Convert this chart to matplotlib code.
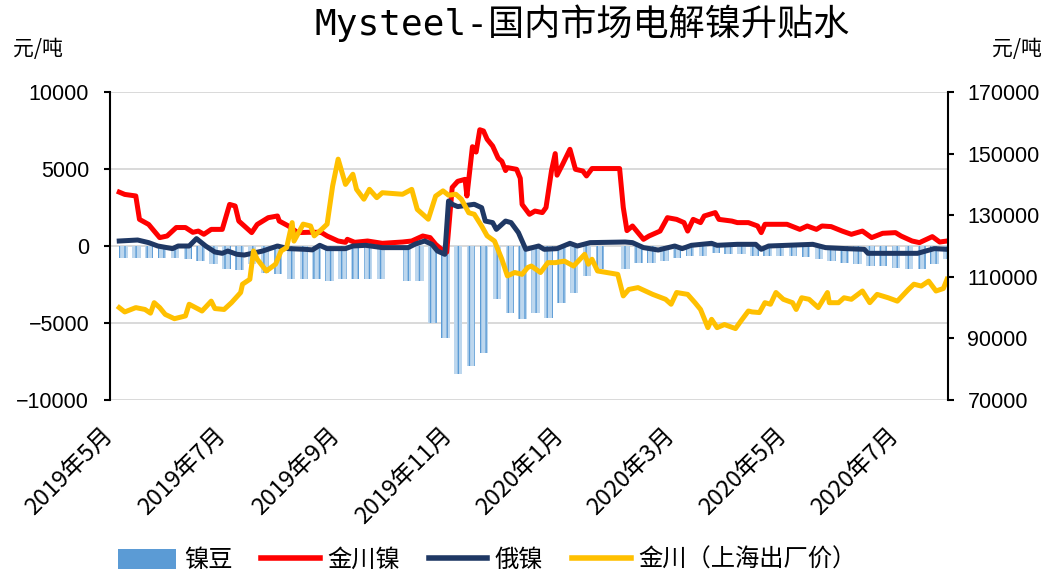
import matplotlib
matplotlib.use('Agg')
import matplotlib.pyplot as plt
from matplotlib.patches import Patch
from matplotlib.lines import Line2D
import numpy as np
import pandas as pd

plt.rcParams['font.family'] = ['Noto Sans CJK SC', 'DejaVu Sans']
plt.rcParams['hatch.linewidth'] = 1.0

# 镍豆（周度柱）
bar_start = '2019-05-06'
bar_vals = [-750, -750, -750, -750, -750, -860, -970, -1190, -1510, -1560,
            -1190, -1730, -1800, -2160, -2160, -2160, -2270, -2160, -2160, -2160,
            -2160, np.nan, -2270, -2270, -4980, -6000, -8300, -7800, -6920, -3460,
            -4330, -4760, -4330, -4650, -3680, -3030, -1950, -1520, np.nan, -1520,
            -1080, -1080, -970, -750, -650, -650, -430, -540, -540, -650,
            -650, -650, -650, -700, -860, -970, -1080, -1190, -1300, -1300,
            -1400, -1510, -1510, -1200, -860]

# 金川镍
red_dates = ['2019-05-06', '2019-05-09', '2019-05-15', '2019-05-17', '2019-05-22', '2019-05-25', '2019-05-28',
             '2019-06-01', '2019-06-06', '2019-06-11', '2019-06-15', '2019-06-18', '2019-06-21', '2019-06-25',
             '2019-07-01', '2019-07-05', '2019-07-08', '2019-07-10', '2019-07-13', '2019-07-17', '2019-07-20',
             '2019-07-26', '2019-07-31', '2019-08-01', '2019-08-06', '2019-08-11', '2019-08-17', '2019-08-22',
             '2019-08-24', '2019-08-27', '2019-09-02', '2019-09-06', '2019-09-07', '2019-09-11', '2019-09-18',
             '2019-09-26', '2019-10-07', '2019-10-12', '2019-10-18', '2019-10-22', '2019-10-25', '2019-10-28',
             '2019-10-31', '2019-11-03', '2019-11-06', '2019-11-10', '2019-11-11', '2019-11-14', '2019-11-16',
             '2019-11-18', '2019-11-20', '2019-11-22', '2019-11-25', '2019-11-28', '2019-11-30', '2019-12-02',
             '2019-12-03', '2019-12-08', '2019-12-10', '2019-12-11', '2019-12-15', '2019-12-18', '2019-12-22',
             '2019-12-24', '2019-12-27', '2019-12-29', '2019-12-30', '2020-01-02', '2020-01-06', '2020-01-09',
             '2020-01-13', '2020-01-15', '2020-01-18', '2020-02-02', '2020-02-04', '2020-02-06', '2020-02-09',
             '2020-02-15', '2020-02-18', '2020-02-24', '2020-02-28', '2020-03-04', '2020-03-08', '2020-03-10',
             '2020-03-13', '2020-03-17', '2020-03-19', '2020-03-25', '2020-03-27', '2020-04-03', '2020-04-06',
             '2020-04-12', '2020-04-17', '2020-04-19', '2020-04-21', '2020-05-03', '2020-05-10', '2020-05-14',
             '2020-05-19', '2020-05-22', '2020-05-27', '2020-06-02', '2020-06-07', '2020-06-13', '2020-06-18',
             '2020-06-24', '2020-07-01', '2020-07-04', '2020-07-10', '2020-07-14', '2020-07-21', '2020-07-25',
             '2020-07-29']
red_vals = [3500, 3350, 3250, 1730, 1400, 970, 545, 650, 1200, 1200,
            890, 970, 760, 1080, 1080, 2700, 2600, 1620, 1300, 870,
            1400, 1840, 1950, 1620, 1300, 870, 890, 890, 870, 650,
            325, 240, 435, 240, 325, 175, 260, 325, 650, 545,
            110, -200, -400, 3800, 4200, 4330, 3250, 6450, 6100, 7550,
            7470, 6930, 6490, 5700, 5500, 4900, 5090, 4980, 4400, 2700,
            2060, 2270, 2170, 2500, 4900, 6000, 4600, 5300, 6280, 4980,
            4870, 4550, 5030, 5030, 2500, 1000, 1300, 435, 650, 970,
            1840, 1730, 1520, 970, 1730, 1520, 1950, 2170, 1730, 1620,
            1520, 1520, 1300, 870, 1410, 1410, 1080, 1300, 1080, 1300,
            1260, 970, 760, 970, 545, 825, 870, 650, 325, 220,
            610, 260, 325]

# 俄镍
navy_dates = ['2019-05-06', '2019-05-16', '2019-05-22', '2019-05-27', '2019-06-04', '2019-06-07', '2019-06-13',
              '2019-06-17', '2019-06-22', '2019-06-27', '2019-07-01', '2019-07-04', '2019-07-09', '2019-07-13',
              '2019-07-23', '2019-07-31', '2019-08-06', '2019-08-15', '2019-08-19', '2019-08-23', '2019-08-27',
              '2019-09-06', '2019-09-10', '2019-09-17', '2019-09-26', '2019-10-10', '2019-10-14', '2019-10-19',
              '2019-10-23', '2019-10-26', '2019-10-30', '2019-11-01', '2019-11-03', '2019-11-06', '2019-11-15',
              '2019-11-19', '2019-11-21', '2019-11-25', '2019-11-27', '2019-12-02', '2019-12-05', '2019-12-09',
              '2019-12-13', '2019-12-20', '2019-12-23', '2019-12-30', '2020-01-06', '2020-01-10', '2020-01-17',
              '2020-02-05', '2020-02-09', '2020-02-15', '2020-02-23', '2020-03-03', '2020-03-07', '2020-03-12',
              '2020-03-23', '2020-03-26', '2020-04-06', '2020-04-16', '2020-04-19', '2020-04-23', '2020-05-17',
              '2020-05-24', '2020-06-04', '2020-06-14', '2020-06-16', '2020-07-13', '2020-07-22', '2020-07-29']
navy_vals = [325, 390, 220, 0, -170, 0, 0, 480, 0, -390,
             -475, -325, -540, -585, -325, 0, -170, -215, -250, 45,
             -170, -170, 0, 45, -105, -105, 130, 325, 110, -325,
             -540, 2920, 2710, 2560, 2710, 2490, 1620, 1520, 1080, 1620,
             1520, 870, -215, 0, -215, -170, 175, 0, 220, 260,
             220, -105, -260, 0, -170, 45, 175, 45, 110, 110,
             -215, 0, 110, -105, -170, -215, -475, -475, -170, -215]

# 金川（上海出厂价），右轴
gold_dates = ['2019-05-06', '2019-05-09', '2019-05-15', '2019-05-20', '2019-05-23', '2019-05-25', '2019-05-28',
              '2019-05-31', '2019-06-05', '2019-06-11', '2019-06-13', '2019-06-20', '2019-06-25', '2019-06-27',
              '2019-07-02', '2019-07-06', '2019-07-11', '2019-07-12', '2019-07-16', '2019-07-18', '2019-07-20',
              '2019-07-25', '2019-07-30', '2019-08-02', '2019-08-05', '2019-08-08', '2019-08-09', '2019-08-14',
              '2019-08-18', '2019-08-20', '2019-08-24', '2019-08-27', '2019-08-30', '2019-09-02', '2019-09-06',
              '2019-09-10', '2019-09-12', '2019-09-16', '2019-09-19', '2019-09-23', '2019-09-26', '2019-10-07',
              '2019-10-12', '2019-10-15', '2019-10-21', '2019-10-25', '2019-10-29', '2019-11-01', '2019-11-05',
              '2019-11-08', '2019-11-12', '2019-11-15', '2019-11-19', '2019-11-22', '2019-11-26', '2019-11-30',
              '2019-12-03', '2019-12-07', '2019-12-11', '2019-12-14', '2019-12-16', '2019-12-21', '2019-12-25',
              '2019-12-29', '2020-01-03', '2020-01-08', '2020-01-14', '2020-01-16', '2020-01-18', '2020-01-21',
              '2020-02-01', '2020-02-04', '2020-02-07', '2020-02-12', '2020-02-20', '2020-02-27', '2020-03-01',
              '2020-03-04', '2020-03-10', '2020-03-14', '2020-03-17', '2020-03-21', '2020-03-23', '2020-03-26',
              '2020-03-30', '2020-04-05', '2020-04-08', '2020-04-12', '2020-04-14', '2020-04-18', '2020-04-21',
              '2020-04-24', '2020-04-27', '2020-05-01', '2020-05-06', '2020-05-08', '2020-05-11', '2020-05-15',
              '2020-05-20', '2020-05-25', '2020-05-26', '2020-05-31', '2020-06-03', '2020-06-07', '2020-06-13',
              '2020-06-17', '2020-06-21', '2020-06-27', '2020-07-02', '2020-07-08', '2020-07-11', '2020-07-15',
              '2020-07-19', '2020-07-23', '2020-07-27', '2020-07-29']
gold_vals = [100000, 98600, 100000, 99400, 98200, 101600, 100000, 97800, 96400, 97300,
             101100, 98900, 102100, 99700, 99400, 101600, 104900, 107600, 109200, 118400,
             115700, 111900, 114100, 118400, 119500, 127600, 121600, 127100, 126500, 123300,
             125400, 127100, 139500, 148200, 140000, 143300, 138400, 135200, 138400, 135700,
             137300, 136800, 138400, 131900, 128700, 136200, 137900, 136500, 136800, 135200,
             130800, 130300, 126500, 123300, 121600, 115700, 110300, 111400, 110800, 113000,
             113500, 111400, 114600, 114600, 115100, 113500, 117300, 114100, 115700, 111900,
             110800, 103800, 105900, 106500, 104300, 102700, 101100, 104900, 104300, 101600,
             99400, 93500, 96200, 93500, 94500, 93200, 95700, 98900, 98600, 98400,
             101600, 101100, 104900, 102700, 101600, 99400, 103200, 102700, 100000, 104900,
             101600, 101600, 103200, 102700, 105400, 101600, 104300, 103200, 102100, 105900,
             107600, 107000, 108600, 105400, 106200, 109200]

xtick_dates = ['2019-05-01', '2019-07-01', '2019-09-01', '2019-11-01',
               '2020-01-01', '2020-03-01', '2020-05-01', '2020-07-01']

bar_dates = pd.date_range(bar_start, periods=len(bar_vals), freq='W-MON')
red_dates = pd.to_datetime(red_dates)
navy_dates = pd.to_datetime(navy_dates)
gold_dates = pd.to_datetime(gold_dates)
xticks = pd.to_datetime(xtick_dates)

fig = plt.figure(figsize=(10.52, 5.75), dpi=100)
ax = fig.add_axes([0.1046, 0.3043, 0.7965, 0.5357])

ax.bar(bar_dates, bar_vals, width=4.6, align='edge', color='#BDD7EE',
       edgecolor='#5B9BD5', hatch='|||', linewidth=0, zorder=2)
ax.plot(red_dates, red_vals, color='#FF0000', lw=3.6, zorder=3, solid_joinstyle='round')
ax.plot(navy_dates, navy_vals, color='#1F3864', lw=3.6, zorder=4, solid_joinstyle='round')

ax.set_ylim(-10000, 10000)
ax.set_yticks(range(-10000, 10001, 5000))
ax.yaxis.grid(True, color='#D9D9D9', lw=1.4, zorder=0)
ax.set_axisbelow(True)
ax.set_xlim(pd.Timestamp('2019-05-01'), pd.Timestamp('2020-07-29 12:00'))
ax.set_xticks(xticks)
ax.set_xticklabels([f'{d.year}年{d.month}月' for d in xticks], rotation=45,
                   ha='right', va='center', rotation_mode='anchor', fontsize=17)
ax.tick_params(axis='x', length=0, pad=23)
ax.tick_params(axis='y', direction='out', length=4, width=1.5, labelsize=15.5, pad=11,
               labelfontfamily='Liberation Sans')
for s in ['top', 'bottom', 'right']:
    ax.spines[s].set_visible(False)
ax.spines['left'].set_linewidth(1.5)

ax2 = ax.twinx()
ax2.plot(gold_dates, gold_vals, color='#FFC000', lw=3.6, solid_joinstyle='round')
ax2.set_ylim(70000, 170000)
ax2.set_yticks(range(70000, 170001, 20000))
ax2.tick_params(axis='y', direction='out', length=4, width=1.5, labelsize=15.5, pad=10,
                labelfontfamily='Liberation Sans')
for s in ['top', 'bottom', 'left']:
    ax2.spines[s].set_visible(False)
ax2.spines['right'].set_linewidth(1.5)

fig.text(0.553, 0.96, 'Mysteel-国内市场电解镍升贴水', ha='center', va='center', fontsize=26,
         family=['DejaVu Sans Mono', 'Noto Sans CJK SC'])
fig.text(0.012, 0.915, '元/吨', ha='left', va='center', fontsize=15)
fig.text(0.99, 0.915, '元/吨', ha='right', va='center', fontsize=15)

handles = [Patch(facecolor='#5B9BD5'),
           Line2D([], [], color='#FF0000', lw=4),
           Line2D([], [], color='#1F3864', lw=4),
           Line2D([], [], color='#FFC000', lw=4)]
labels = ['镍豆', '金川镍', '俄镍', '金川（上海出厂价）']
fig.legend(handles, labels, loc='center', bbox_to_anchor=(0.463, 0.026), ncol=4,
           frameon=False, fontsize=17.5, handlelength=2.4, handleheight=0.9,
           columnspacing=1.2, handletextpad=0.3)

fig.savefig('out.png', dpi=100)
